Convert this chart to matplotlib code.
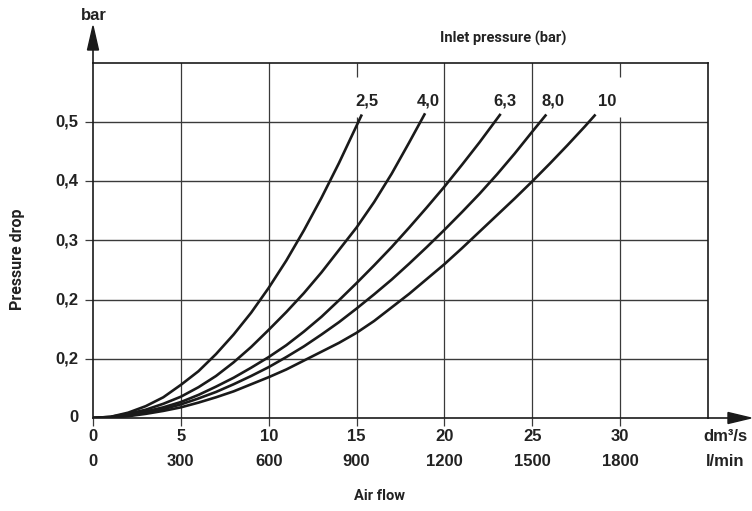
import numpy as np
import matplotlib
matplotlib.use("Agg")
import matplotlib.pyplot as plt
from matplotlib.patches import Polygon

# pressure drop curves (flow dm3/s, drop bar)
flow_25 = [0, 1, 2, 3, 4, 5, 6, 7, 8, 9, 10, 11, 12, 13, 14, 15, 15.3]
drop_25 = [0, 0.002, 0.009, 0.02, 0.035, 0.056, 0.079, 0.108, 0.141, 0.178,
           0.22, 0.266, 0.317, 0.372, 0.431, 0.494, 0.513]

flow_40 = [0, 1, 2, 3, 4, 5, 6, 7, 8, 9, 10, 11, 12, 13, 14, 15, 16, 17, 18, 18.9]
drop_40 = [0, 0.002, 0.007, 0.014, 0.024, 0.036, 0.052, 0.071, 0.094, 0.12,
           0.149, 0.179, 0.211, 0.246, 0.284, 0.322, 0.365, 0.413, 0.466, 0.515]

flow_63 = [0, 1, 2, 3, 4, 5, 6, 7, 8, 9, 10, 11, 12, 13, 14, 15, 16, 17, 18, 19,
           20, 21, 22, 23, 23.2]
drop_63 = [0, 0.001, 0.005, 0.011, 0.018, 0.027, 0.039, 0.053, 0.068, 0.085,
           0.103, 0.123, 0.146, 0.171, 0.199, 0.228, 0.258, 0.289, 0.322, 0.356,
           0.391, 0.428, 0.466, 0.506, 0.514]

flow_80 = [0, 1, 2, 3, 4, 5, 6, 7, 8, 9, 10, 11, 12, 13, 14, 15, 16, 17, 18, 19,
           20, 21, 22, 23, 24, 25, 25.8]
drop_80 = [0, 0.001, 0.004, 0.009, 0.015, 0.023, 0.033, 0.044, 0.057, 0.071,
           0.086, 0.103, 0.121, 0.141, 0.162, 0.185, 0.209, 0.234, 0.261, 0.289,
           0.318, 0.348, 0.379, 0.412, 0.447, 0.484, 0.513]

flow_10 = [0, 1, 2, 3, 4, 5, 6, 7, 8, 9, 10, 11, 12, 13, 14, 15, 16, 17, 18, 19,
           20, 21, 22, 23, 24, 25, 26, 27, 28, 28.6]
drop_10 = [0, 0.001, 0.003, 0.007, 0.012, 0.018, 0.026, 0.035, 0.045, 0.057,
           0.069, 0.082, 0.097, 0.112, 0.127, 0.144, 0.164, 0.187, 0.21, 0.235,
           0.26, 0.287, 0.315, 0.343, 0.371, 0.4, 0.43, 0.461, 0.493, 0.513]

curve_labels = ["2,5", "4,0", "6,3", "8,0", "10"]
label_x = [15.6, 19.07, 23.45, 26.2, 29.25]

x_ticks = [0, 5, 10, 15, 20, 25, 30]
x_labels_dm3 = ["0", "5", "10", "15", "20", "25", "30"]
x_labels_lmin = ["0", "300", "600", "900", "1200", "1500", "1800"]
y_ticks = [0.1, 0.2, 0.3, 0.4, 0.5]
y_labels = ["0,2", "0,2", "0,3", "0,4", "0,5"]

W, H = 752, 511
fig = plt.figure(figsize=(W / 100, H / 100), dpi=100)
L, R, B, T = 93, 708, 418, 63
ax = fig.add_axes([L / W, 1 - B / H, (R - L) / W, (B - T) / H])
ax.set_xlim(0, 35)
ax.set_ylim(0, 0.6)

bold = dict(family="Liberation Sans", weight="bold", size=12, color="#222")
cond = dict(family="Roboto", weight="bold", size=10.5, color="#222")
grid_c = "#3a3a3a"

# grid
for yv in y_ticks:
    ax.axhline(yv, color=grid_c, lw=1.0, zorder=1)
for xv in [5, 10, 20, 25]:
    ax.axvline(xv, color=grid_c, lw=0.9, zorder=1)
for xv in [15, 30]:
    ax.vlines(xv, 0, 0.508, color=grid_c, lw=0.9, zorder=1)
    ax.vlines(xv, 0.576, 0.6, color=grid_c, lw=0.9, zorder=1)

# curves
for fx, dy in [(flow_25, drop_25), (flow_40, drop_40), (flow_63, drop_63),
               (flow_80, drop_80), (flow_10, drop_10)]:
    ax.plot(fx, dy, color="#1a1a1a", lw=1.9, solid_capstyle="butt", zorder=3)

for lab, lx in zip(curve_labels, label_x):
    ax.text(lx, 0.535, lab, ha="center", va="center", **bold)

for s in ax.spines.values():
    s.set_color("#1a1a1a")
    s.set_linewidth(1.2)

ax.set_xticks(x_ticks)
ax.set_xticklabels([])
ax.set_yticks(y_ticks)
ax.set_yticklabels([])
ax.tick_params(axis="both", direction="out", length=6, width=0.9, color=grid_c)

# tick labels as text
for xv, a, b in zip(x_ticks, x_labels_dm3, x_labels_lmin):
    ax.text(xv, -0.032, a, ha="center", va="center", **bold)
    ax.text(xv, -0.073, b, ha="center", va="center", **bold)
ax.text(36.0, -0.032, "dm³/s", ha="center", va="center", clip_on=False, **bold)
ax.text(36.0, -0.073, "l/min", ha="center", va="center", clip_on=False, **bold)
for yv, lab in zip(y_ticks, y_labels):
    ax.text(-0.85, yv, lab, ha="right", va="center", **bold)
ax.text(-0.85, 0.0, "0", ha="right", va="center", **bold)

# axis arrows in figure pixels
def fx_(px):
    return px / W

def fy_(py):
    return 1 - py / H

fig.add_artist(plt.Line2D([fx_(L), fx_(L)], [fy_(T), fy_(45)], color="#1a1a1a", lw=1.2))
fig.add_artist(Polygon([[fx_(L - 5.5), fy_(50)], [fx_(L + 5.5), fy_(50)], [fx_(L), fy_(26)]],
                       closed=True, color="#1a1a1a", transform=fig.transFigure))
fig.add_artist(plt.Line2D([fx_(R), fx_(735)], [fy_(B), fy_(B)], color="#1a1a1a", lw=1.2))
fig.add_artist(Polygon([[fx_(728), fy_(B - 5.5)], [fx_(728), fy_(B + 5.5)], [fx_(751), fy_(B)]],
                       closed=True, color="#1a1a1a", transform=fig.transFigure))

fig.text(fx_(94), fy_(16), "bar", ha="center", va="center", **bold)
fig.text(fx_(503), fy_(38), "Inlet pressure (bar)", ha="center", va="center", **cond)
fig.text(fx_(18), fy_(259), "Pressure drop", ha="center", va="center", rotation=90,
         size=11.5, family="Roboto", weight="bold", color="#222")
fig.text(fx_(379), fy_(496), "Air flow", ha="center", va="center", **cond)

fig.savefig("out.png", dpi=100)
